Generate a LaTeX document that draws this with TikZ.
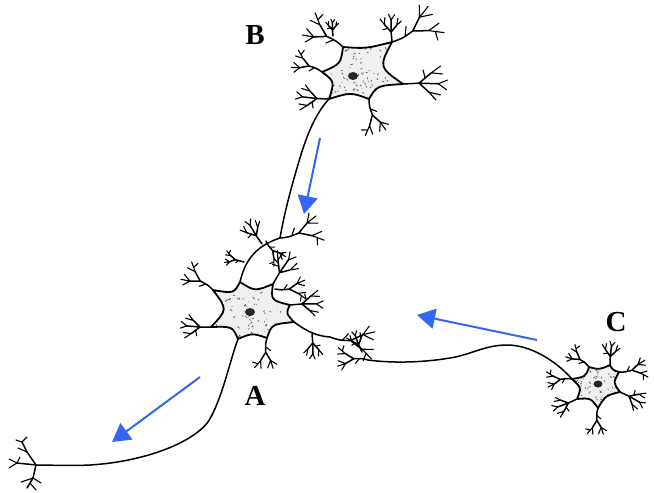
\documentclass[tikz,border=0pt]{standalone}
\usepackage{fontspec}
\setmainfont{Liberation Serif}
\usetikzlibrary{calc,arrows.meta}
\definecolor{arrowblue}{RGB}{51,102,245}
\tikzset{
  neuron/.style={line width=1.5pt, line cap=round, line join=round},
  twig/.style={line width=1.1pt, line cap=round, line join=round},
  soma/.style={line width=1.8pt, line join=round, fill=gray!12},
  axon/.style={line width=1.5pt, line cap=round},
  flow/.style={arrowblue, line width=2pt, -{Triangle[length=18pt,width=20pt]}},
  lbl/.style={font=\fontsize{29}{32}\selectfont\bfseries, inner sep=0pt},
  dtree/.pic={
    \draw[neuron] (0,0) .. controls (6,1) .. (13,0)
      (13,0) -- (20,-5) (13,0) -- (21,4);
    \draw[twig] (20,-5) -- (27,-8) (20,-5) -- (23,-11) (20,-5) -- (27,-3)
      (21,4) -- (28,9) (21,4) -- (28,3) (24,6) -- (23,11) (8,0.5) -- (11,-4);
  },
  dtreeb/.pic={
    \draw[neuron] (0,0) -- (10,0) (10,0) -- (18,-6) (10,0) -- (22,1) (10,0) -- (16,6);
    \draw[twig] (18,-6) -- (24,-10) (18,-6) -- (25,-5) (22,1) -- (28,-1) (22,1) -- (27,5)
      (16,6) -- (20,11) (16,6) -- (23,8) (14,-3) -- (13,-8);
  },
}
\newcommand\sd[4]{.. controls ($(#1)!0.5!(#2)!#4!(#3)$) .. (#2)}
\newcommand\stipple[2]{\foreach \i in {1,...,110}{\draw[line width=0.6pt,black!70] ($(#1)+(rand*#2,rand*#2)$) -- ++(rand*2.2,rand*2.2);}}
\begin{document}
\begin{tikzpicture}[x=1pt,y=-1pt]
\useasboundingbox[fill=white] (0,0) rectangle (654,493);
\pgfmathsetseed{42}
% ---------- Neuron B ----------
\coordinate (Bc) at (356,72);
\coordinate (B1) at (343,47);
\coordinate (B2) at (392,42);
\coordinate (B3) at (403,84);
\coordinate (B4) at (369,99);
\coordinate (B5) at (329,99);
\coordinate (B6) at (322,72);
\newcommand\somaB{(B1) \sd{B1}{B2}{Bc}{0.15} \sd{B2}{B3}{Bc}{0.45} \sd{B3}{B4}{Bc}{0.3} \sd{B4}{B5}{Bc}{0.25} \sd{B5}{B6}{Bc}{0.3} \sd{B6}{B1}{Bc}{0.35} -- cycle}
\fill[gray!12] \somaB;
\begin{scope}\clip \somaB; \stipple{Bc}{32} \end{scope}
\draw[soma, fill=none] \somaB;
\fill[black!85] (353,76) ellipse (5 and 4);
\pic[rotate=147,scale=1.5] at (B1) {dtree};
\pic[rotate=95,scale=0.6] at (333,36) {dtreeb};
\pic[rotate=95,scale=1.0] at (B2) {dtreeb};
\pic[rotate=28,scale=1.8] at (B2) {dtree};
\pic[rotate=3,scale=1.6] at (B3) {dtreeb};
\pic[rotate=155,scale=1.1] at (B6) {dtree};
\pic[rotate=178,scale=1.2] at (B5) {dtreeb};
\pic[rotate=-78,scale=1.25] at (B4) {dtree};
% ---------- Neuron A ----------
\coordinate (A0) at (280,238);
\coordinate (Ac) at (251,311);
\coordinate (A1) at (240,282);
\coordinate (A2) at (273,284);
\coordinate (A3) at (290,305);
\coordinate (A4) at (294,322);
\coordinate (A5) at (267,338);
\coordinate (A6) at (238,339);
\coordinate (A7) at (211,327);
\coordinate (A8) at (213,290);
\newcommand\somaA{(A1) \sd{A1}{A2}{Ac}{0.3} \sd{A2}{A3}{Ac}{0.35} \sd{A3}{A4}{Ac}{0.15} \sd{A4}{A5}{Ac}{0.3} \sd{A5}{A6}{Ac}{0.2} \sd{A6}{A7}{Ac}{0.3} \sd{A7}{A8}{Ac}{0.4} \sd{A8}{A1}{Ac}{0.3} -- cycle}
\fill[gray!12] \somaA;
\begin{scope}\clip \somaA; \stipple{Ac}{38} \end{scope}
\draw[soma, fill=none] \somaA;
\fill[black!85] (250,312) ellipse (5 and 4);
\draw[neuron] (A1) .. controls (244,265) and (252,247) .. (A0);
\pic[rotate=15,scale=1.5] at (A0) {dtree};
\pic[rotate=125,scale=1.0] at (262,244) {dtreeb};
\pic[rotate=-55,scale=0.9] at (266,241) {dtree};
\pic[rotate=165,scale=0.7] at (244,262) {dtree};
\pic[rotate=60,scale=1.3] at (A2) {dtreeb};
\pic[rotate=0,scale=1.1] at (275,289) {dtree};
\pic[rotate=5,scale=1.2] at (A3) {dtreeb};
\draw[neuron] (A4) .. controls (305,330) and (315,336) .. (330,337);
\pic[rotate=-10,scale=1.6] at (330,337) {dtree};
\pic[rotate=-85,scale=0.9] at (312,334) {dtreeb};
\pic[rotate=-95,scale=1.1] at (A5) {dtree};
\pic[rotate=180,scale=1.1] at (A7) {dtreeb};
\pic[rotate=145,scale=1.2] at (A8) {dtree};
% axon B -> A
\draw[axon] (B5) .. controls (314,115) and (305,140) .. (297,168) .. controls (290,192) and (284,215) .. (A0);
% axon A
\coordinate (AT) at (36,465);
\draw[axon] (A6) .. controls (230,360) and (222,400) .. (208,422) .. controls (190,445) and (140,462) .. (90,465) .. controls (70,466) and (50,465) .. (AT);
\draw[neuron] (AT) -- (27,452) -- (22,442) (AT) -- (17,463) (AT) -- (33,478) -- (27,488);
\draw[twig] (27,452) -- (18,448) (22,442) -- (16,440) (22,442) -- (27,437)
  (17,463) -- (9,459) (17,463) -- (9,468) (17,463) -- (20,457)
  (33,478) -- (21,482) (33,478) -- (41,483) (30,483) -- (36,490);
% ---------- Neuron C ----------
\coordinate (Cc) at (598,385);
\coordinate (C1) at (572,379);
\coordinate (C2) at (589,367);
\coordinate (C3) at (610,365);
\coordinate (C4) at (619,372);
\coordinate (C5) at (620,392);
\coordinate (C6) at (598,408);
\coordinate (C7) at (577,399);
\newcommand\somaC{(C1) \sd{C1}{C2}{Cc}{0.3} \sd{C2}{C3}{Cc}{0.2} \sd{C3}{C4}{Cc}{0.1} \sd{C4}{C5}{Cc}{0.3} \sd{C5}{C6}{Cc}{0.3} \sd{C6}{C7}{Cc}{0.3} \sd{C7}{C1}{Cc}{0.3} -- cycle}
\fill[gray!12] \somaC;
\begin{scope}\clip \somaC; \stipple{Cc}{26} \end{scope}
\draw[soma, fill=none] \somaC;
\fill[black!85] (598,384) ellipse (4.5 and 3.5);
\pic[rotate=140,scale=0.9] at (C2) {dtree};
\pic[rotate=88,scale=0.85] at (C3) {dtreeb};
\pic[rotate=8,scale=1.0] at (C4) {dtree};
\pic[rotate=-25,scale=1.0] at (C5) {dtreeb};
\pic[rotate=-95,scale=0.95] at (C6) {dtree};
\pic[rotate=-155,scale=0.95] at (C7) {dtreeb};
\pic[rotate=182,scale=0.9] at (C1) {dtree};
\coordinate (CT) at (368,360);
\draw[axon] (C1) .. controls (555,360) and (530,345) .. (507,345) .. controls (485,345) and (470,355) .. (450,358) .. controls (420,363) and (390,363) .. (CT);
\pic[rotate=175,scale=1.1] at (CT) {dtree};
\pic[rotate=115,scale=0.8] at (362,352) {dtreeb};
% ---------- arrows ----------
\coordinate (bt) at (320,138); \coordinate (bh) at (304,214);
\coordinate (ct) at (537,340); \coordinate (ch) at (417,315);
\coordinate (at) at (200,377); \coordinate (ah) at (112,442);
\draw[flow] (bt) -- (bh);
\draw[flow] (ct) -- (ch);
\draw[flow] (at) -- (ah);
% ---------- labels ----------
\node[lbl] (labB) at (255,35) {B};
\node[lbl] (labA) at (255,396) {A};
\node[lbl] (labC) at (616,322) {C};
\end{tikzpicture}
\end{document}
